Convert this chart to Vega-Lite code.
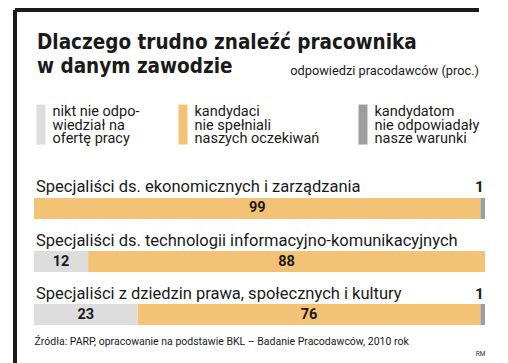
{
  "$schema": "https://vega.github.io/schema/vega-lite/v6.json",
  "width": 468,
  "height": 353,
  "autosize": "none",
  "padding": {"left": 15, "top": 10, "right": 25, "bottom": 0},
  "background": "white",
  "title": {
    "text": ["Dlaczego trudno znaleźć pracownika", "w danym zawodzie"],
    "anchor": "start",
    "dx": 22,
    "offset": -67,
    "font": "Liberation Sans Narrow, DejaVu Sans Condensed",
    "fontSize": 20.5,
    "fontWeight": "bold",
    "lineHeight": 24,
    "color": "#1a1a1a"
  },
  "data": {
    "values": [
      {"cat": "Specjaliści ds. ekonomicznych i zarządzania", "answer": "nikt nie odpowiedział na ofertę pracy", "k": 1, "v": 0},
      {"cat": "Specjaliści ds. ekonomicznych i zarządzania", "answer": "kandydaci nie spełniali naszych oczekiwań", "k": 2, "v": 99},
      {"cat": "Specjaliści ds. ekonomicznych i zarządzania", "answer": "kandydatom nie odpowiadały nasze warunki", "k": 3, "v": 1},
      {"cat": "Specjaliści ds. technologii informacyjno-komunikacyjnych", "answer": "nikt nie odpowiedział na ofertę pracy", "k": 1, "v": 12},
      {"cat": "Specjaliści ds. technologii informacyjno-komunikacyjnych", "answer": "kandydaci nie spełniali naszych oczekiwań", "k": 2, "v": 88},
      {"cat": "Specjaliści ds. technologii informacyjno-komunikacyjnych", "answer": "kandydatom nie odpowiadały nasze warunki", "k": 3, "v": 0},
      {"cat": "Specjaliści z dziedzin prawa, społecznych i kultury", "answer": "nikt nie odpowiedział na ofertę pracy", "k": 1, "v": 23},
      {"cat": "Specjaliści z dziedzin prawa, społecznych i kultury", "answer": "kandydaci nie spełniali naszych oczekiwań", "k": 2, "v": 76},
      {"cat": "Specjaliści z dziedzin prawa, społecznych i kultury", "answer": "kandydatom nie odpowiadały nasze warunki", "k": 3, "v": 1}
    ]
  },
  "transform": [
    {"stack": "v", "groupby": ["cat"], "sort": [{"field": "k"}], "as": ["v0", "v1"]},
    {"calculate": "(datum.v0 + datum.v1) / 2", "as": "mid"}
  ],
  "encoding": {
    "y": {
      "field": "cat", "type": "nominal", "sort": null, "axis": null,
      "scale": {"range": [188, 315], "paddingInner": 0.6038, "paddingOuter": 0}
    }
  },
  "layer": [
    {
      "transform": [{"filter": "datum.v > 0"}],
      "mark": {"type": "bar", "cornerRadius": 0},
      "encoding": {
        "x": {
          "field": "v0", "type": "quantitative",
          "scale": {"domain": [0, 100], "range": [19, 470], "nice": false, "zero": false},
          "axis": {
            "orient": "bottom",
            "offset": -36,
            "values": [100],
            "labelExpr": "'RM'",
            "labelAlign": "right",
            "labelFontSize": 6.5,
            "labelColor": "#333",
            "labelFont": "Roboto",
            "labelPadding": 23,
            "ticks": false,
            "domain": false,
            "grid": false,
            "title": "Źródła: PARP, opracowanie na podstawie BKL – Badanie Pracodawców, 2010 rok",
            "titleAnchor": "start",
            "titleAlign": "left",
            "titleBaseline": "alphabetic",
            "titleY": 17,
            "titleFont": "Roboto",
            "titleFontSize": 10.5,
            "titleFontWeight": "normal",
            "titleColor": "#1a1a1a"
          }
        },
        "x2": {"field": "v1"},
        "color": {
          "field": "answer", "type": "nominal",
          "scale": {
            "domain": ["nikt nie odpowiedział na ofertę pracy", "kandydaci nie spełniali naszych oczekiwań", "kandydatom nie odpowiadały nasze warunki"],
            "range": ["#dddddd", "#f3c275", "#9d9d9d"]
          },
          "legend": {
            "orient": "none",
            "legendX": 6,
            "legendY": 55,
            "direction": "horizontal",
            "columns": 3,
            "columnPadding": 23,
            "padding": 0,
            "title": "odpowiedzi pracodawców (proc.)",
            "titleAnchor": "end",
            "titleLimit": 400,
            "titleFont": "Roboto",
            "titleFontSize": 12.8,
            "titleFontWeight": "normal",
            "titleColor": "#1a1a1a",
            "titlePadding": 14,
            "symbolType": "M-0.225,-0.375H0.225V1.625H-0.225Z",
            "symbolSize": 1600,
            "symbolStrokeWidth": 0,
            "symbolOpacity": 1,
            "labelOffset": -8.5,
            "labelFont": "Roboto",
            "labelFontSize": 14.5,
            "labelColor": "#1a1a1a",
            "labelLimit": 200,
            "labelExpr": "datum.label == 'nikt nie odpowiedział na ofertę pracy' ? ['nikt nie odpo-', 'wiedział na', 'ofertę pracy'] : datum.label == 'kandydaci nie spełniali naszych oczekiwań' ? ['kandydaci', 'nie spełniali', 'naszych oczekiwań'] : ['kandydatom', 'nie odpowiadały', 'nasze warunki']"
          }
        }
      }
    },
    {
      "transform": [{"filter": "datum.k == 1"}],
      "mark": {"type": "text", "align": "left", "baseline": "alphabetic", "dy": -16, "dx": 2, "font": "Roboto", "fontSize": 16.5, "color": "#1a1a1a"},
      "encoding": {
        "x": {"datum": 0, "type": "quantitative"},
        "text": {"field": "cat"}
      }
    },
    {
      "transform": [{"filter": "datum.v >= 5"}],
      "mark": {"type": "text", "align": "center", "baseline": "middle", "font": "Roboto", "fontSize": 14.5, "fontWeight": "bold", "color": "#1a1a1a"},
      "encoding": {
        "x": {"field": "mid", "type": "quantitative"},
        "text": {"field": "v", "type": "quantitative"}
      }
    },
    {
      "transform": [{"filter": "datum.v > 0 && datum.v < 5"}],
      "mark": {"type": "text", "align": "right", "baseline": "alphabetic", "dy": -16, "dx": -1, "font": "Roboto", "fontSize": 15.5, "fontWeight": "bold", "color": "#1a1a1a"},
      "encoding": {
        "x": {"field": "v1", "type": "quantitative"},
        "text": {"field": "v", "type": "quantitative"}
      }
    }
  ],
  "config": {
    "view": {"stroke": "#1a1a1a", "strokeWidth": 4, "strokeDash": [466, 823, 355, 0], "strokeCap": "butt", "strokeDashOffset": 2},
    "style": {"guide-label": {"lineHeight": 13.5}}
  }
}
